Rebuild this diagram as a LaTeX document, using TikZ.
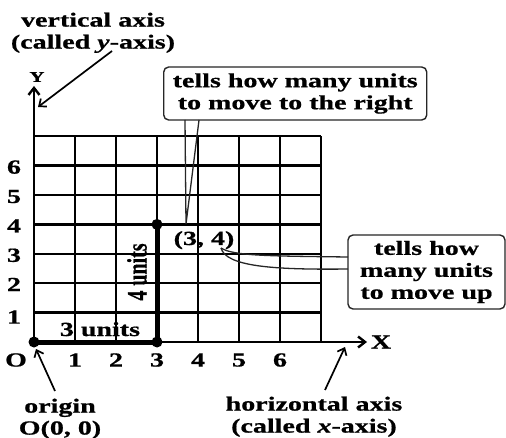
\documentclass[tikz,border=0pt]{standalone}
\usepackage{fontspec}
\setmainfont{Liberation Serif}[FakeStretch=1.4, BoldFeatures={FakeBold=0.8}, BoldItalicFeatures={FakeBold=0.8}]
\newfontfamily\plainserif{Liberation Serif}[BoldFeatures={FakeBold=0.8}]
\usetikzlibrary{arrows.meta}
\begin{document}
\begin{tikzpicture}[x=1pt,y=-1pt,
  txt/.style={font=\fontsize{20}{22}\selectfont\bfseries, inner sep=0pt},
  gridline/.style={line width=2.3pt},
  axisline/.style={line width=2.6pt, -{Straight Barb[length=7pt,width=11pt,line width=2.4pt]}},
  pointer/.style={line width=1.7pt, -{Straight Barb[length=6pt,width=10pt,line width=1.7pt]}},
  callout/.style={txt, draw=black!85, line width=1.4pt, rounded corners=5pt, fill=white, align=center},
  wedge/.style={line width=1.3pt, black!85},
  thickpath/.style={line width=5pt},
  dot/.style={circle, fill=black, inner sep=0pt, minimum size=11pt},
]
\useasboundingbox (0,0) rectangle (506,438);
% grid
\foreach \i in {1,...,7} \draw[gridline] ({34+41*\i},342) -- ({34+41*\i},136.2);
\foreach \j in {1,...,7} \draw[gridline] (34,{342-29.4*\j}) -- (321,{342-29.4*\j});
% points
\node[dot] (O) at (34,342) {};
\node[dot] (A) at (157,342) {};
\node[dot] (P) at (157,224.4) {};
% axes
\coordinate (ytip) at (34,86);
\coordinate (xtip) at (367,342);
\draw[axisline] (O.center) -- (ytip);
\draw[axisline] (O.center) -- (xtip);
\draw[thickpath] (O.center) -- (A.center) -- (P.center);
% axis labels
\node[txt, font=\fontsize{15}{15}\selectfont\bfseries] (Ylab) at (37,77) {Y};
\node[txt] (Xlab) at (381,342) {X};
\node[txt] (Olab) at (16,360) {O};
\foreach \i in {1,...,6} \node[txt] (xl\i) at ({34+41*\i},360) {\i};
\foreach \j/\yy in {1/317,2/284.5,3/255.3,4/225.9,5/196.5,6/167.1} \node[txt] (yl\j) at (14,\yy) {\j};
% unit labels
\node[txt, anchor=base] (three) at (100,336) {3 units};
\node[txt, font=\plainserif\fontsize{20}{22}\selectfont\bfseries, xscale=1.4, rotate=90] (four) at (137,272) {4 units};
\node[txt, anchor=base] (pt) at (204,245) {(3, 4)};
% callouts
\node[callout, anchor=west, minimum height=53pt, inner xsep=9pt] (rightbox) at (163,93.5) {tells how many units\\to move to the right};
\node[callout, minimum width=157pt, minimum height=74pt] (upbox) at (426.5,272) {tells how\\many units\\to move up};
\coordinate (w1) at (185,120);
\coordinate (w2) at (199,120);
\coordinate (wt) at (186,224);
\draw[wedge] (w1) -- (wt) -- (w2);
\coordinate (rt) at (221,248);
\coordinate (r1) at (348,257);
\coordinate (r2) at (348,269);
\draw[wedge] (rt) .. controls (233,256) and (270,256) .. (r1);
\draw[wedge] (rt) .. controls (226,266) and (270,270) .. (r2);
% axis name labels
\node[txt, align=center, anchor=north] (vlab) at (93,12.5) {vertical axis\\(called \textit{y}-axis)};
\node[txt, align=center, anchor=north] (olab) at (60,398.5) {origin\\O(0, 0)};
\node[txt, align=center, anchor=north] (hlab) at (314,396.5) {horizontal axis\\(called \textit{x}-axis)};
% pointers
\coordinate (vt) at (112,51);
\coordinate (vh) at (38,107);
\draw[pointer] (vt) -- (vh);
\coordinate (ot) at (55,391);
\coordinate (oh) at (36,349);
\draw[pointer] (ot) -- (oh);
\coordinate (ht) at (325,390);
\coordinate (hh) at (345,347);
\draw[pointer] (ht) -- (hh);
\end{tikzpicture}
\end{document}
